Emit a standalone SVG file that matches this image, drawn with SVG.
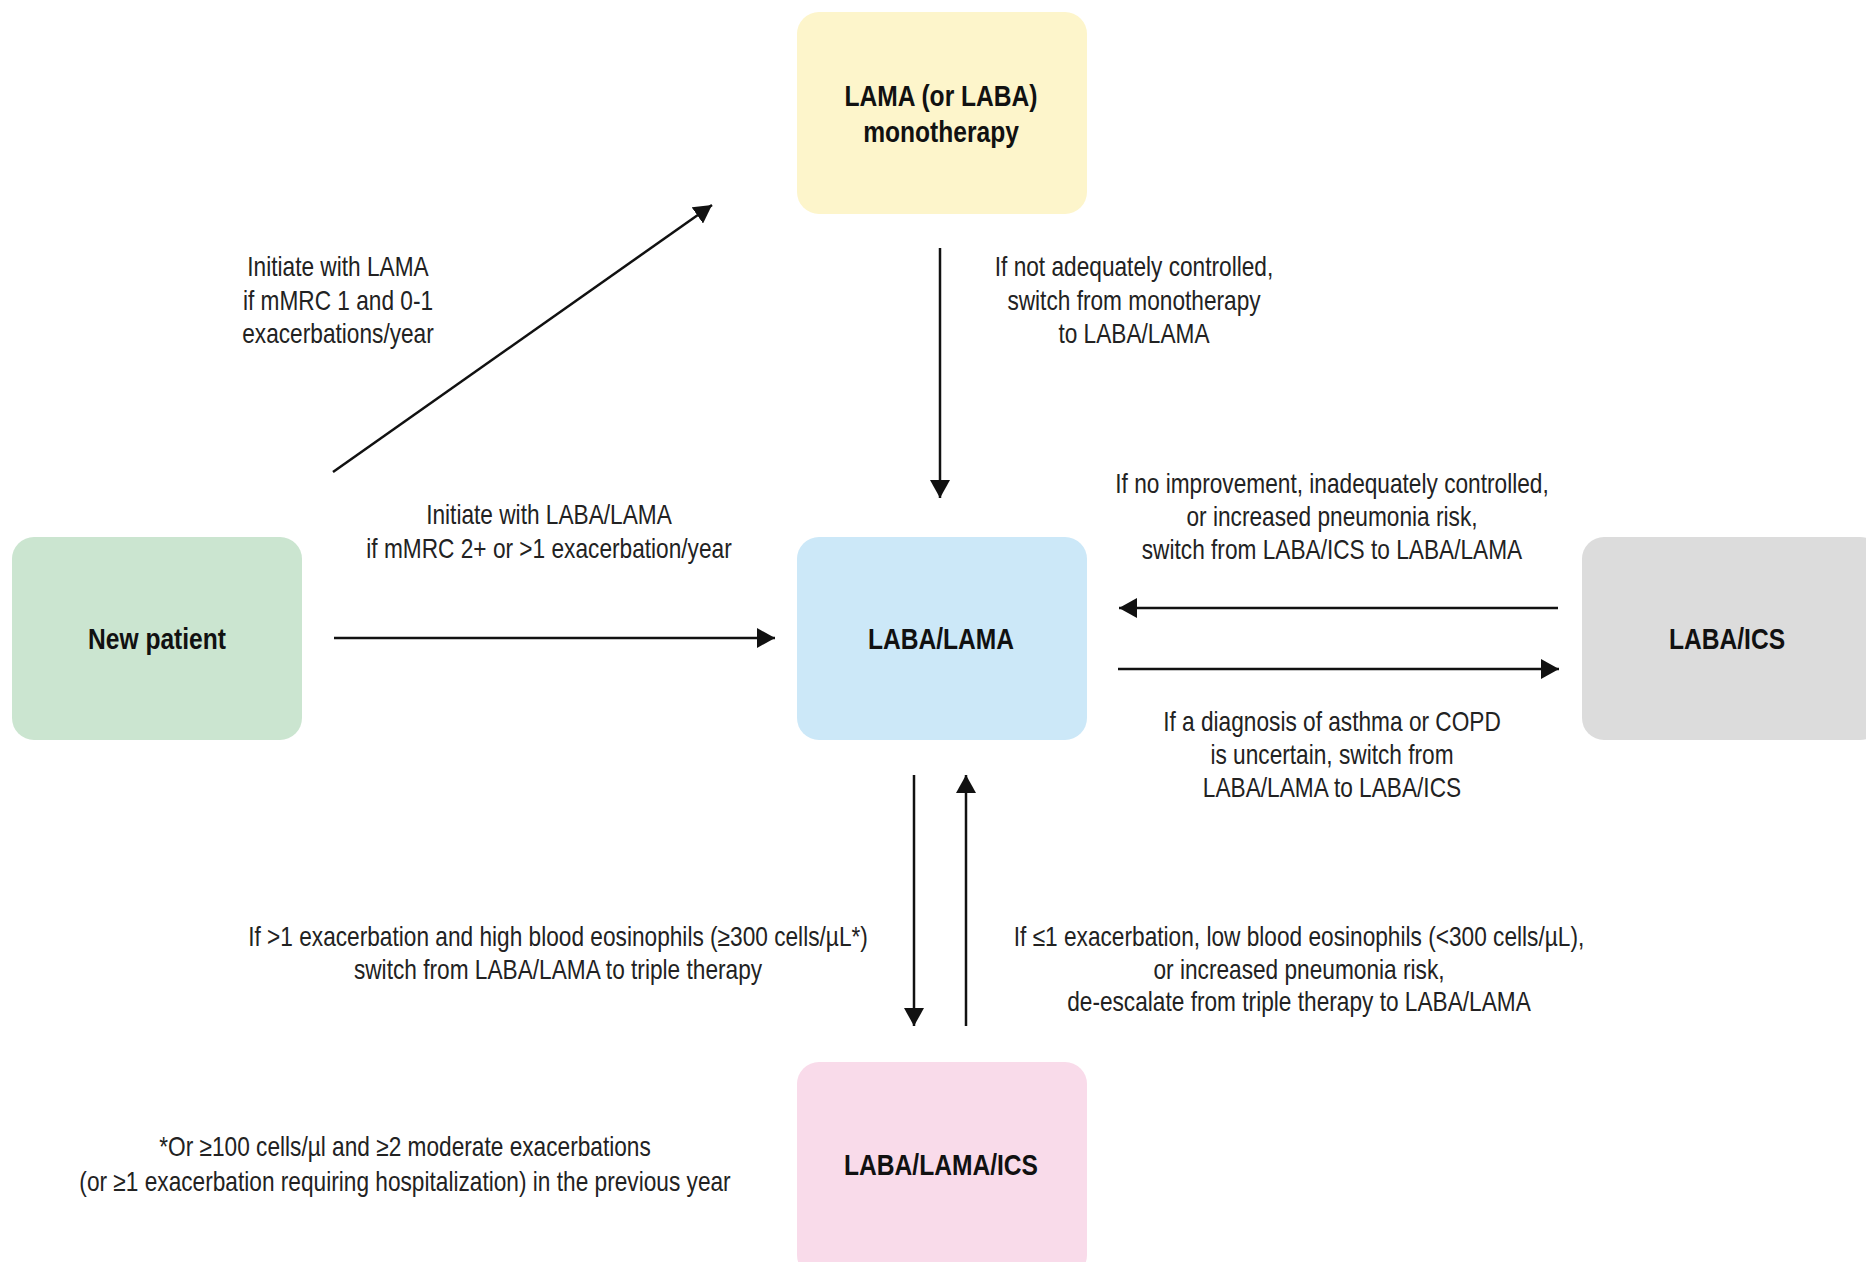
<svg xmlns="http://www.w3.org/2000/svg" width="1866" height="1262" viewBox="0 0 1866 1262">
  <style>
    .box { stroke: none; }
    .node-label { font-family: "Liberation Sans", Arial, sans-serif; font-weight: bold; font-size: 30px; fill: #111; text-anchor: middle; }
    .edge-label { font-family: "Liberation Sans", Arial, sans-serif; font-size: 27px; fill: #222; text-anchor: middle; }
    .edge { stroke: #111; stroke-width: 2.5; fill: none; marker-end: url(#arrow); }
  </style>
  <defs>
    <marker id="arrow" viewBox="0 0 18 20" refX="18" refY="10" markerWidth="18" markerHeight="20" markerUnits="userSpaceOnUse" orient="auto">
      <path d="M0,0 L18,10 L0,20 z" fill="#111"/>
    </marker>
  </defs>

  <rect width="1866" height="1262" fill="#ffffff"/>

  <!-- treatment nodes -->
  <g id="node-mono">
    <rect class="box" x="797" y="12" width="290" height="202" rx="22" fill="#fdf5cb"/>
    <text class="node-label" transform="translate(941,0) scale(0.82,1)"><tspan x="0" y="106">LAMA (or LABA)</tspan><tspan x="0" y="142">monotherapy</tspan></text>
  </g>
  <g id="node-new">
    <rect class="box" x="12" y="537" width="290" height="203" rx="22" fill="#cbe5d0"/>
    <text class="node-label" transform="translate(157,649) scale(0.82,1)" x="0" y="0">New patient</text>
  </g>
  <g id="node-laba-lama">
    <rect class="box" x="797" y="537" width="290" height="203" rx="22" fill="#cce8f8"/>
    <text class="node-label" transform="translate(941,649) scale(0.82,1)" x="0" y="0">LABA/LAMA</text>
  </g>
  <g id="node-laba-ics">
    <rect class="box" x="1582" y="537" width="300" height="203" rx="22" fill="#dcdcdc"/>
    <text class="node-label" transform="translate(1727,649) scale(0.82,1)" x="0" y="0">LABA/ICS</text>
  </g>
  <g id="node-triple">
    <rect class="box" x="797" y="1062" width="290" height="215" rx="22" fill="#f9dbea"/>
    <text class="node-label" transform="translate(941,1175) scale(0.82,1)" x="0" y="0">LABA/LAMA/ICS</text>
  </g>

  <!-- connectors -->
  <g id="connectors">
    <line class="edge" x1="333" y1="472" x2="712" y2="205"/>
    <line class="edge" x1="940" y1="248" x2="940" y2="498"/>
    <line class="edge" x1="334" y1="638" x2="775" y2="638"/>
    <line class="edge" x1="1558" y1="608" x2="1119" y2="608"/>
    <line class="edge" x1="1118" y1="669" x2="1559" y2="669"/>
    <line class="edge" x1="914" y1="775" x2="914" y2="1026"/>
    <line class="edge" x1="966" y1="1026" x2="966" y2="775"/>
  </g>

  <!-- connector labels -->
  <g id="labels">
    <text class="edge-label" transform="translate(338,0) scale(0.84,1)"><tspan x="0" y="276">Initiate with LAMA</tspan><tspan x="0" y="310">if mMRC 1 and 0-1</tspan><tspan x="0" y="343">exacerbations/year</tspan></text>
    <text class="edge-label" transform="translate(1134,0) scale(0.84,1)"><tspan x="0" y="276">If not adequately controlled,</tspan><tspan x="0" y="310">switch from monotherapy</tspan><tspan x="0" y="343">to LABA/LAMA</tspan></text>
    <text class="edge-label" transform="translate(1332,0) scale(0.84,1)"><tspan x="0" y="493">If no improvement, inadequately controlled,</tspan><tspan x="0" y="526">or increased pneumonia risk,</tspan><tspan x="0" y="559">switch from LABA/ICS to LABA/LAMA</tspan></text>
    <text class="edge-label" transform="translate(1332,0) scale(0.84,1)"><tspan x="0" y="731">If a diagnosis of asthma or COPD</tspan><tspan x="0" y="764">is uncertain, switch from</tspan><tspan x="0" y="797">LABA/LAMA to LABA/ICS</tspan></text>
    <text class="edge-label" transform="translate(549,0) scale(0.84,1)"><tspan x="0" y="524">Initiate with LABA/LAMA</tspan><tspan x="0" y="558">if mMRC 2+ or &gt;1 exacerbation/year</tspan></text>
    <text class="edge-label" transform="translate(558,0) scale(0.84,1)"><tspan x="0" y="946">If &gt;1 exacerbation and high blood eosinophils (≥300 cells/µL*)</tspan><tspan x="0" y="979">switch from LABA/LAMA to triple therapy</tspan></text>
    <text class="edge-label" transform="translate(1299,0) scale(0.84,1)"><tspan x="0" y="946">If ≤1 exacerbation, low blood eosinophils (&lt;300 cells/µL),</tspan><tspan x="0" y="979">or increased pneumonia risk,</tspan><tspan x="0" y="1011">de-escalate from triple therapy to LABA/LAMA</tspan></text>
    <text class="edge-label" transform="translate(405,0) scale(0.84,1)"><tspan x="0" y="1156">*Or ≥100 cells/µl and ≥2 moderate exacerbations</tspan><tspan x="0" y="1191">(or ≥1 exacerbation requiring hospitalization) in the previous year</tspan></text>
  </g>
</svg>
